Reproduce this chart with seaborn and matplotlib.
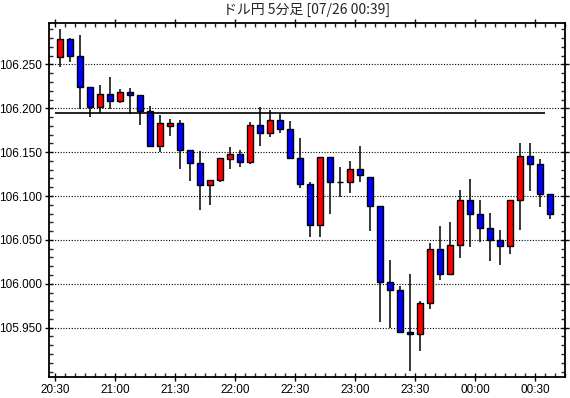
import matplotlib
matplotlib.use("Agg")
import matplotlib.pyplot as plt
from matplotlib.ticker import MultipleLocator, FixedLocator, FormatStrFormatter
import numpy as np
import seaborn as sns

# 5-minute candles, 20:30 -> 00:35
opens = [106.258, 106.279, 106.260, 106.224, 106.201, 106.216, 106.208, 106.218, 106.215, 106.197,
         106.157, 106.180, 106.183, 106.153, 106.138, 106.113, 106.118, 106.142, 106.148, 106.139,
         106.181, 106.172, 106.187, 106.176, 106.143, 106.114, 106.067, 106.145, 106.116, 106.116,
         106.131, 106.122, 106.089, 106.002, 105.993, 105.945, 105.943, 105.978, 106.040, 106.011,
         106.044, 106.096, 106.079, 106.064, 106.050, 106.043, 106.095, 106.146, 106.136, 106.102]
highs = [106.290, 106.280, 106.283, 106.224, 106.226, 106.236, 106.222, 106.223, 106.215, 106.203,
         106.192, 106.188, 106.187, 106.153, 106.151, 106.118, 106.143, 106.156, 106.152, 106.184,
         106.202, 106.198, 106.194, 106.186, 106.166, 106.116, 106.145, 106.145, 106.133, 106.140,
         106.157, 106.122, 106.089, 106.027, 105.997, 106.011, 105.980, 106.046, 106.066, 106.070,
         106.107, 106.119, 106.096, 106.081, 106.061, 106.096, 106.161, 106.161, 106.142, 106.102]
lows = [106.247, 106.253, 106.199, 106.190, 106.195, 106.199, 106.206, 106.194, 106.181, 106.156,
        106.150, 106.168, 106.131, 106.117, 106.084, 106.090, 106.116, 106.131, 106.133, 106.136,
        106.157, 106.167, 106.172, 106.143, 106.109, 106.053, 106.053, 106.079, 106.099, 106.104,
        106.116, 106.060, 105.956, 105.950, 105.944, 105.901, 105.923, 105.971, 106.004, 106.010,
        106.029, 106.042, 106.048, 106.026, 106.021, 106.034, 106.061, 106.106, 106.087, 106.074]
closes = [106.279, 106.260, 106.224, 106.201, 106.216, 106.208, 106.218, 106.215, 106.197, 106.157,
          106.183, 106.183, 106.153, 106.138, 106.113, 106.118, 106.143, 106.148, 106.139, 106.181,
          106.172, 106.187, 106.176, 106.143, 106.114, 106.067, 106.145, 106.116, 106.116, 106.131,
          106.124, 106.089, 106.002, 105.993, 105.945, 105.943, 105.978, 106.040, 106.011, 106.044,
          106.096, 106.079, 106.064, 106.050, 106.043, 106.095, 106.146, 106.136, 106.102, 106.080]

time_labels = ["20:30", "21:00", "21:30", "22:00", "22:30", "23:00", "23:30", "00:00", "00:30"]
price_ticks = [105.95, 106.00, 106.05, 106.10, 106.15, 106.20, 106.25]
ref_level = 106.195
title = "ドル円 5分足 [07/26 00:39]"

sns.set_style("ticks")
plt.rcParams["font.family"] = ["Liberation Sans", "Noto Sans CJK JP", "DejaVu Sans"]

fig = plt.figure(figsize=(5.7, 3.98), dpi=100)
ax = fig.add_axes([49 / 570, 1 - 377.3 / 398, 516 / 570, (377.3 - 22.7) / 398])

o = np.array(opens)
c = np.array(closes)
x = np.arange(len(o)) + 0.5
colors = np.where(c > o, "#ff0000", np.where(c < o, "#0000ff", "black"))

ax.vlines(x, lows, highs, color="black", lw=1.1, zorder=2)
ax.bar(x, c - o, bottom=o, width=0.62, color=colors, edgecolor="black", linewidth=1.0, zorder=3)
ax.hlines(ref_level, 0, 49, color="black", lw=1.2, zorder=4)

ax.set_xlim(-0.6, 51.0)
ax.set_ylim(105.8935, 106.2975)

ax.yaxis.set_major_locator(FixedLocator(price_ticks))
ax.yaxis.set_minor_locator(MultipleLocator(0.01))
ax.yaxis.set_major_formatter(FormatStrFormatter("%.3f"))
ax.xaxis.set_major_locator(FixedLocator(np.arange(0, 49, 6)))
ax.xaxis.set_minor_locator(MultipleLocator(1))
ax.set_xticklabels(time_labels)

ax.grid(axis="y", which="major", color="black", linestyle=(0, (1, 1.5)), lw=0.8)
ax.tick_params(axis="both", which="major", direction="inout", length=6, width=1,
               labelsize=8.5, colors="black", top=True, right=True, pad=2)
ax.tick_params(axis="both", which="minor", direction="in", length=3, width=1,
               top=True, right=True)
for s in ax.spines.values():
    s.set_visible(True)
    s.set_color("black")
    s.set_linewidth(1.3)

fig.text(307 / 570, 1 - 10 / 398, title, ha="center", va="center", fontsize=10,
         family=["Noto Sans CJK JP", "DejaVu Sans"])

fig.savefig("out.png", dpi=100)
